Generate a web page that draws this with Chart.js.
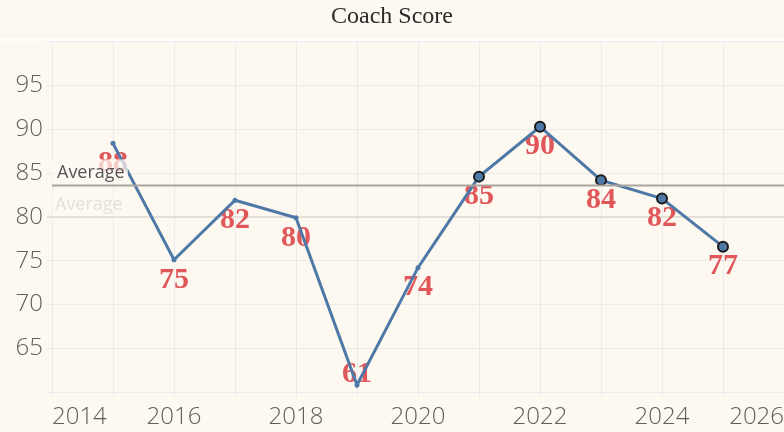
<!DOCTYPE html>
<html>
<head>
<meta charset="utf-8">
<script src="https://cdn.jsdelivr.net/npm/chart.js@4"></script>
<style>
  html, body { margin: 0; padding: 0; background: #fdf8f0; }
  canvas { display: block; }
</style>
</head>
<body>
<canvas id="chart" width="784" height="432"></canvas>
<script>
// data
const years = [2015, 2016, 2017, 2018, 2019, 2020, 2021, 2022, 2023, 2024, 2025];
const scores = [88.4, 75.1, 81.9, 79.9, 60.8, 74.2, 84.6, 90.3, 84.2, 82.1, 76.6];
const averageScore = 83.6;
const yTicksShown = [65, 70, 75, 80, 85, 90, 95];
const xTicksShown = [2014, 2016, 2018, 2020, 2022, 2024, 2026];

const BLUE = '#4e79a7';
const RED = '#e15759';
const TICK_FONT = { family: '"Open Sans", sans-serif', size: 24, weight: 300 };

// values as text under each point, drawn before the line so it sits on top
const valueLabels = {
    id: 'valueLabels',
    beforeDatasetsDraw(chart) {
        const { ctx, chartArea } = chart;
        const meta = chart.getDatasetMeta(0);
        ctx.save();
        ctx.font = 'bold 30px "Liberation Serif", "Times New Roman", serif';
        ctx.fillStyle = RED;
        ctx.textAlign = 'center';
        ctx.textBaseline = 'middle';
        meta.data.forEach((pt, i) => {
            let y = pt.y + 20;
            if (y + 18 > chartArea.bottom) y = chartArea.bottom - 18;
            ctx.fillText(Math.round(scores[i]), pt.x, y);
        });
        ctx.restore();
    }
};

// reference line + its labels, and the white strip under the title
const averageLine = {
    id: 'averageLine',
    beforeDraw(chart) {
        const { ctx, chartArea } = chart;
        ctx.save();
        ctx.fillStyle = '#ffffff';
        ctx.fillRect(0, chartArea.top - 3, chart.width, 2);
        ctx.restore();
    },
    afterDatasetsDraw(chart) {
        const { ctx, chartArea } = chart;
        const y = chart.scales.y.getPixelForValue(averageScore);
        ctx.save();
        ctx.strokeStyle = '#aaa59c';
        ctx.lineWidth = 2;
        ctx.beginPath();
        ctx.moveTo(chartArea.left, y);
        ctx.lineTo(chartArea.right, y);
        ctx.stroke();

        ctx.font = '18px "Open Sans", sans-serif';
        ctx.textBaseline = 'middle';
        ctx.textAlign = 'left';
        ctx.fillStyle = 'rgba(253, 249, 242, 0.72)';
        ctx.fillRect(chartArea.left, y - 26, 76, 23);
        ctx.fillStyle = '#555555';
        ctx.fillText('Average', chartArea.left + 5, y - 13);

        ctx.fillStyle = 'rgba(255, 255, 255, 0.25)';
        ctx.fillRect(chartArea.left, y + 6, 76, 25);
        ctx.fillStyle = 'rgba(205, 198, 188, 0.5)';
        ctx.fillText('Average', chartArea.left + 3, y + 19);
        ctx.restore();
    }
};

new Chart(document.getElementById('chart'), {
    type: 'line',
    data: {
        datasets: [{
            data: years.map((yr, i) => ({ x: yr, y: scores[i] })),
            borderColor: BLUE,
            borderWidth: 3,
            backgroundColor: BLUE,
            pointBackgroundColor: BLUE,
            pointRadius: ctx => ctx.dataIndex >= 6 ? 5 : 2.5,
            pointBorderWidth: ctx => ctx.dataIndex >= 6 ? 2 : 0,
            pointBorderColor: ctx => ctx.dataIndex >= 6 ? '#1b1b1b' : BLUE,
            tension: 0,
            fill: false,
            clip: 8
        }]
    },
    options: {
        responsive: false,
        animation: false,
        devicePixelRatio: 1,
        layout: { padding: 0, autoPadding: false },
        plugins: {
            legend: { display: false },
            tooltip: { enabled: false },
            title: {
                display: true,
                text: 'Coach Score',
                color: '#2b2b2b',
                font: { family: '"Liberation Serif", "Times New Roman", serif', size: 24, weight: 'normal' },
                padding: { top: 2, bottom: 11 }
            }
        },
        scales: {
            x: {
                type: 'linear',
                min: 2014,
                max: 2026,
                border: { display: false },
                grid: { color: 'rgba(226, 230, 236, 0.7)', tickLength: 5 },
                ticks: {
                    stepSize: 1,
                    autoSkip: false,
                    maxRotation: 0,
                    align: 'inner',
                    padding: 6,
                    color: '#5f5f5f',
                    font: TICK_FONT,
                    callback: v => xTicksShown.includes(v) ? String(v) : ''
                },
                afterFit: s => { s.height = 40; s.paddingLeft = 0; s.paddingRight = 0; }
            },
            y: {
                min: 60,
                max: 100,
                border: { display: false },
                grid: {
                    color: ctx => ctx.tick && ctx.tick.value === 80 ? '#e4e0d9' : 'rgba(226, 230, 236, 0.7)',
                    lineWidth: ctx => ctx.tick && ctx.tick.value === 80 ? 2 : 1,
                    tickLength: 5
                },
                ticks: {
                    stepSize: 5,
                    padding: 4,
                    color: '#5f5f5f',
                    font: TICK_FONT,
                    callback: v => yTicksShown.includes(v) ? String(v) : ''
                },
                afterFit: s => { s.width = 52; }
            }
        }
    },
    plugins: [valueLabels, averageLine]
});
</script>
</body>
</html>
